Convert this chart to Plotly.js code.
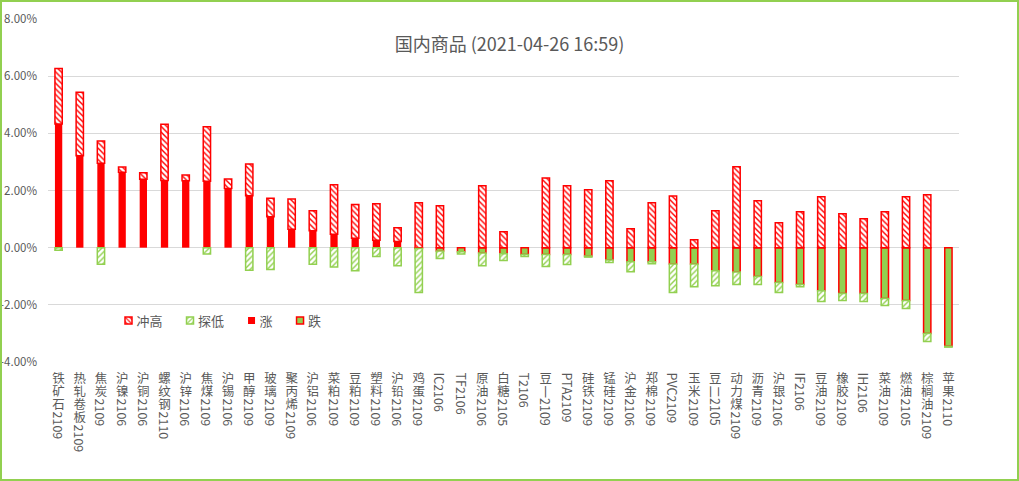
<!DOCTYPE html>
<html>
<head>
<meta charset="utf-8">
<script src="https://cdn.plot.ly/plotly-3.0.1.min.js"></script>
<style>
  html, body { margin: 0; padding: 0; background: #fff; }
  #wrap { position: relative; width: 1019px; height: 481px; box-sizing: border-box; border: 2px solid #92D050; overflow: hidden; }
  #chart { position: absolute; left: -2px; top: -2px; width: 1019px; height: 481px; }
</style>
</head>
<body>
<div id="wrap"><div id="chart"></div></div>
<script>
// Categories (products)
const categories = ["铁矿石2109","热轧卷板2109","焦炭2109","沪镍2106","沪铜2106","螺纹钢2110","沪锌2106","焦煤2109","沪锡2106","甲醇2109",
  "玻璃2109","聚丙烯2109","沪铝2106","菜粕2109","豆粕2109","塑料2109","沪铅2106","鸡蛋2109","IC2106","TF2106",
  "原油2106","白糖2105","T2106","豆一2109","PTA2109","硅铁2109","锰硅2109","沪金2106","郑棉2109","PVC2109",
  "玉米2109","豆二2105","动力煤2109","沥青2109","沪银2106","IF2106","豆油2109","橡胶2109","IH2106","菜油2109",
  "燃油2105","棕榈油2109","苹果2110"];

// 涨 (rise, %), null where the product fell
const riseValues = [4.33,3.22,2.95,2.64,2.39,2.35,2.34,2.32,2.07,1.82,
  1.08,0.64,0.59,0.47,0.33,0.26,0.22,null,null,null,
  null,null,null,null,null,null,null,null,null,null,
  null,null,null,null,null,null,null,null,null,null,
  null,null,null];

// 跌 (fall, %), null where the product rose
const fallValues = [null,null,null,null,null,null,null,null,null,null,
  null,null,null,null,null,null,null,-0.03,-0.12,-0.14,
  -0.19,-0.21,-0.24,-0.24,-0.24,-0.29,-0.43,-0.49,-0.49,-0.57,
  -0.57,-0.81,-0.85,-1.01,-1.22,-1.29,-1.51,-1.60,-1.60,-1.78,
  -1.85,-3.00,-3.45];

// 冲高 (extra reach above the close / zero, %)
const highValues = [1.94,2.22,0.78,0.18,0.23,1.97,0.20,1.91,0.33,1.11,
  0.65,1.06,0.70,1.73,1.18,1.28,0.48,1.57,1.47,null,
  2.17,0.56,null,2.44,2.17,2.03,2.34,0.66,1.57,1.81,
  0.28,1.29,2.83,1.64,0.87,1.26,1.78,1.19,1.01,1.26,
  1.78,1.85,null];

// 探低 (extra reach below the close / zero, %)
const lowValues = [-0.09,null,-0.58,null,null,null,null,-0.22,null,-0.79,
  -0.76,null,-0.58,-0.68,-0.81,-0.31,-0.63,-1.54,-0.26,-0.08,
  -0.44,-0.24,-0.07,-0.42,-0.35,-0.04,-0.09,-0.35,-0.07,-1.00,
  -0.80,-0.52,-0.44,-0.28,-0.35,-0.08,-0.37,-0.25,-0.28,-0.24,
  -0.28,-0.28,-0.03];

const yTicks = [-4,-2,0,2,4,6,8];

const RED = '#FF0000';
const GREEN = '#92D050';
const GREY = '#595959';
const FONT = '"Noto Sans CJK SC", "Noto Sans", sans-serif';

const traces = [
  { type:'bar', name:'涨', x:categories, y:riseValues, legendrank:3,
    marker:{ color:RED, line:{ width:0 } } },
  { type:'bar', name:'跌', x:categories, y:fallValues, legendrank:4,
    marker:{ color:GREEN, line:{ color:RED, width:1.5 } } },
  { type:'bar', name:'冲高', x:categories, y:highValues, legendrank:1,
    marker:{ color:RED, line:{ color:RED, width:1.5 },
      pattern:{ shape:'\\', fgcolor:RED, bgcolor:'#FFFFFF', size:4, solidity:0.35 } } },
  { type:'bar', name:'探低', x:categories, y:lowValues, legendrank:2,
    marker:{ color:GREEN, line:{ color:GREEN, width:1.5 },
      pattern:{ shape:'/', fgcolor:GREEN, bgcolor:'#FFFFFF', size:4, solidity:0.35 } } }
];

const MB = 118.5;
const layout = {
  width:1019, height:481,
  paper_bgcolor:'rgba(0,0,0,0)', plot_bgcolor:'#FFFFFF',
  margin:{ l:47.5, r:60, t:19, b:MB, pad:0 },
  barmode:'relative', bargap:0.655,
  font:{ family:FONT, color:GREY, size:12 },
  title:{ text:'国内商品 (2021-04-26 16:59)', font:{ family:FONT, size:18, color:GREY },
    x:0.5, xref:'container', xanchor:'center', y:1-45/481, yref:'container', yanchor:'middle' },
  xaxis:{ type:'category', range:[-0.5, categories.length-0.5], showgrid:false, zeroline:false,
    showline:false, ticks:'', tickangle:0, automargin:false,
    tickfont:{ family:FONT, size:12.5, color:GREY } },
  yaxis:{ range:[-4,8], tickvals:yTicks, ticktext:yTicks.map(v => v.toFixed(2)+'%'),
    showgrid:true, gridcolor:'#D9D9D9', gridwidth:1, zeroline:true, zerolinecolor:'#D9D9D9', zerolinewidth:1,
    showline:false, ticks:'', automargin:false, ticklabelstandoff:10,
    tickfont:{ family:FONT, size:11.5, color:GREY } },
  showlegend:true,
  legend:{ orientation:'h', x:0.075, xanchor:'left', y:(362.5-321)/343.5, yanchor:'middle',
    bgcolor:'rgba(0,0,0,0)', font:{ family:FONT, size:13, color:GREY },
    traceorder:'normal', itemclick:false }
};

const SVGNS = 'http://www.w3.org/2000/svg';

// Excel-like vertical category labels: CJK characters stacked upright, the rest turned 90deg
function verticalLabels(gd) {
  const top = 481 - MB + 9;   // first glyph top
  const step = 13;            // upright glyph advance
  gd.querySelectorAll('.xtick text').forEach(t => {
    const label = t.getAttribute('data-unformatted') || t.textContent;
    let i = 0;
    while (i < label.length && /[\u4e00-\u9fff]/.test(label[i]) && label[i] !== '一' && label[i] !== '二') i++;
    const upright = label.slice(0, i);
    const rest = label.slice(i);
    const tr = t.getAttribute('transform') || '';
    const style = t.getAttribute('style') || '';
    while (t.firstChild) t.removeChild(t.firstChild);
    t.setAttribute('text-anchor', 'middle');
    t.setAttribute('x', 0);
    t.setAttribute('y', top);
    for (let k = 0; k < upright.length; k++) {
      const ts = document.createElementNS(SVGNS, 'tspan');
      ts.setAttribute('x', 0);
      ts.setAttribute('y', top + k*step + 11);
      ts.textContent = upright[k];
      t.appendChild(ts);
    }
    if (rest) {
      const r = document.createElementNS(SVGNS, 'text');
      r.setAttribute('style', style);
      r.setAttribute('text-anchor', 'start');
      r.setAttribute('dominant-baseline', 'central');
      r.setAttribute('x', 0);
      r.setAttribute('y', 0);
      r.setAttribute('transform', tr + ' translate(0,' + (top + upright.length*step + 1) + ') rotate(90)');
      r.textContent = rest;
      t.parentNode.appendChild(r);
    }
  });
}

function compactLegend(gd) {
  const items = Array.from(gd.querySelectorAll('.legend .traces'));
  let center = 128.5;
  items.forEach(g => {
    g.querySelectorAll('.legendpoints path').forEach(p => p.setAttribute('d', 'M3.5,3.5H-3.5V-3.5H3.5Z'));
    const txt = g.querySelector('.legendtext');
    txt.setAttribute('x', 28);
    const m = /translate\(([-\d.]+)[ ,]+([-\d.]+)\)/.exec(g.getAttribute('transform') || 'translate(0,0)');
    const y = m ? parseFloat(m[2]) : 0;
    const parentX = g.parentNode.getScreenCTM().e;
    g.setAttribute('transform', 'translate(' + (center - 20 - parentX) + ',' + y + ')');
    center += 3.5 + 4.5 + txt.getComputedTextLength() + 24 + 3.5;
  });
}

Plotly.newPlot('chart', traces, layout, { displayModeBar:false, staticPlot:true }).then(gd => {
  verticalLabels(gd);
  compactLegend(gd);
});
</script>
</body>
</html>
